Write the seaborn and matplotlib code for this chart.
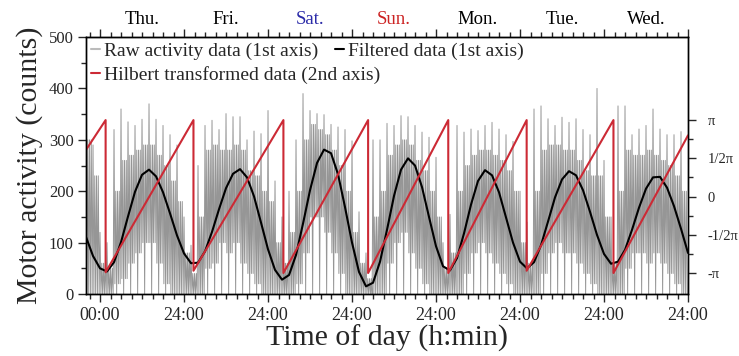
import matplotlib
matplotlib.use('Agg')
import matplotlib.pyplot as plt
from matplotlib.ticker import MultipleLocator
import numpy as np
import pandas as pd
import seaborn as sns

# time axis is in hours from Thursday 00:00
days = ['Thu.', 'Fri.', 'Sat.', 'Sun.', 'Mon.', 'Tue.', 'Wed.']
day_colors = ['black', 'black', '#2a2aa8', '#cc2222', 'black', 'black', 'black']
time_ticks = [0, 24, 48, 72, 96, 120, 144, 168]
time_labels = ['00:00', '24:00', '24:00', '24:00', '24:00', '24:00', '24:00', '24:00']
phase_ticks = [-1, -0.5, 0, 0.5, 1]
phase_labels = ['-\u03c0', '-1/2\u03c0', '0', '1/2\u03c0', '\u03c0']

# raw activity, one value per 2 h bin starting at -4 h
raw_peak = [344, 290, 120, 100, 320, 360, 335, 328, 340, 370, 340, 328, 310, 290,
            150, 95, 250, 328, 338, 320, 351, 345, 345, 300, 317, 312, 357, 220,
            150, 200, 300, 390, 357, 351, 349, 330, 325, 320, 298, 160, 80, 300,
            300, 332, 328, 347, 345, 328, 315, 305, 266, 100, 155, 328, 315, 321,
            318, 328, 334, 321, 310, 297, 200, 140, 360, 366, 341, 328, 344, 334,
            341, 320, 310, 400, 260, 150, 366, 366, 310, 321, 328, 360, 321, 310,
            310, 316]
raw_top = [300, 230, 60, 50, 200, 260, 270, 280, 290, 290, 270, 250, 220, 180,
           80, 40, 150, 280, 290, 280, 280, 290, 280, 240, 230, 200, 180, 100,
           60, 120, 200, 300, 330, 320, 310, 280, 250, 200, 120, 60, 30, 150,
           200, 270, 290, 300, 290, 260, 240, 200, 150, 50, 80, 200, 250, 270,
           280, 280, 270, 260, 240, 200, 100, 60, 200, 280, 290, 290, 280, 280,
           260, 240, 230, 230, 150, 60, 200, 280, 270, 270, 280, 270, 260, 250,
           230, 200]
raw_low = [0, 0, 0, 0, 20, 30, 60, 80, 100, 100, 60, 20, 0, 0,
           0, 0, 0, 50, 60, 100, 80, 100, 60, 40, 20, 0, 0, 0,
           0, 0, 20, 80, 150, 150, 120, 80, 40, 0, 0, 0, 0, 0,
           0, 60, 100, 120, 80, 50, 20, 0, 0, 0, 0, 0, 40, 80,
           100, 80, 60, 40, 20, 0, 0, 0, 0, 40, 80, 100, 80, 80,
           60, 40, 20, 0, 0, 0, 0, 50, 80, 80, 60, 80, 60, 40,
           20, 0]

# filtered data, every 2 h from -4 h to 168 h
filtered = [111, 74, 50, 44, 62, 101, 151, 199, 232, 242, 229, 198, 157, 114,
            79, 60, 61, 83, 121, 165, 206, 234, 243, 227, 190, 139, 87, 47,
            28, 37, 76, 137, 202, 255, 281, 274, 233, 169, 100, 43, 15, 22,
            63, 125, 191, 242, 264, 250, 208, 150, 93, 54, 46, 70, 118, 174,
            220, 241, 231, 198, 149, 100, 63, 50, 62, 95, 141, 188, 223, 239,
            231, 202, 160, 115, 78, 59, 63, 86, 125, 168, 205, 227, 228, 207,
            171, 127, 80]

# Hilbert phase (units of pi) at the ends of each sawtooth ramp
hilbert_t = [-4, 1.6, 1.6, 26.7, 26.7, 52.4, 52.4, 76.6, 76.6, 99.5, 99.5,
             121.9, 121.9, 146.7, 146.7, 168]
hilbert_phase = [0.61, 1.0, -0.99, 1.0, -0.97, 1.0, -1.0, 1.0, -1.0, 1.0, -1.0,
                 1.0, -0.97, 1.0, -1.0, 0.80]

# each 2 h bin is drawn as a dense run of samples between its read levels
raw_t, raw_v = [], []
for k in range(len(raw_peak)):
    s = -4 + 2 * k
    levels = [raw_peak[k], raw_low[k], raw_top[k], 0, raw_top[k], raw_low[k], raw_top[k], raw_low[k]]
    raw_t += [s + 0.25 * j for j in range(8)]
    raw_v += levels
df_raw = pd.DataFrame({'time': raw_t, 'count': raw_v})
df_filt = pd.DataFrame({'time': np.arange(-4, -4 + 2 * len(filtered), 2), 'count': filtered})
df_hil = pd.DataFrame({'time': hilbert_t, 'phase': hilbert_phase})

sns.set_style('ticks')
plt.rcParams['font.family'] = ['Liberation Serif', 'DejaVu Serif']

fig, ax = plt.subplots(figsize=(7.39, 3.56), dpi=100)
fig.subplots_adjust(left=0.1164, right=0.931, bottom=0.174, top=0.896)

sns.lineplot(data=df_raw, x='time', y='count', estimator=None, sort=False,
             color='#969696', lw=0.7, ax=ax, label='Raw activity data (1st axis)', legend=False)
sns.lineplot(data=df_filt, x='time', y='count', estimator=None, sort=False,
             color='black', lw=1.5, ax=ax, label='Filtered data (1st axis)', legend=False)

ax2 = ax.twinx()
sns.lineplot(data=df_hil, x='time', y='phase', estimator=None, sort=False,
             color='#cc2a35', lw=1.5, ax=ax2, label='Hilbert transformed data (2nd axis)', legend=False)

ax.set_xlim(-4, 168)
ax.set_ylim(0, 500)
ax2.set_ylim(-1.275, 2.086)

ax.set_xticks(time_ticks)
ax.set_xticklabels(time_labels, fontsize=13)
ax.xaxis.set_minor_locator(MultipleLocator(3))
ax.yaxis.set_major_locator(MultipleLocator(100))
ax.yaxis.set_minor_locator(MultipleLocator(50))
for label in ax.get_yticklabels():
    label.set_fontsize(12)
ax.tick_params(which='major', direction='out', length=6, width=1, pad=3)
ax.tick_params(which='minor', direction='out', length=3.5, width=1)

ax2.set_yticks(phase_ticks)
ax2.set_yticklabels(phase_labels, fontsize=10.5)
ax2.set_yticks([-0.75, -0.25, 0.25, 0.75], minor=True)
ax2.tick_params(which='major', direction='out', length=6, width=1, pad=8)
ax2.tick_params(which='minor', direction='out', length=3.5, width=1)
ax2.set_ylabel('')

top = ax.secondary_xaxis('top')
top.set_xticks(time_ticks)
top.set_xticklabels([])
top.xaxis.set_minor_locator(MultipleLocator(3))
top.tick_params(which='major', direction='out', length=6, width=1)
top.tick_params(which='minor', direction='out', length=3.5, width=1)
for i, day in enumerate(days):
    ax.text(12 + 24 * i, 1.068, day, color=day_colors[i], fontsize=13.5,
            ha='center', va='center', transform=ax.get_xaxis_transform())

ax.set_xlabel('Time of day (h:min)', fontsize=21.5, labelpad=1)
ax.set_ylabel('Motor activity (counts)', fontsize=21.5, labelpad=4)

for a in (ax, ax2):
    for sp in a.spines.values():
        sp.set_visible(True)
        sp.set_linewidth(1)
        sp.set_color('black')

h_raw, h_filt = ax.get_lines()[0], ax.get_lines()[1]
h_hil = ax2.get_lines()[0]
leg1 = ax2.legend([h_raw, h_filt], ['Raw activity data (1st axis)', 'Filtered data (1st axis)'],
                  ncol=2, loc='upper left', bbox_to_anchor=(0.0, 1.0), frameon=False,
                  fontsize=14, handlelength=0.45, handletextpad=0.2, columnspacing=0.9,
                  borderpad=0.15, borderaxespad=0.1)
ax2.add_artist(leg1)
leg2 = ax2.legend([h_hil], ['Hilbert transformed data (2nd axis)'],
                  loc='upper left', bbox_to_anchor=(0.0, 0.905), frameon=False,
                  fontsize=14, handlelength=0.45, handletextpad=0.2,
                  borderpad=0.15, borderaxespad=0.1)
for leg in (leg1, leg2):
    for line in leg.get_lines():
        line.set_linewidth(1.5)
leg1.get_lines()[0].set_color('#bbbbbb')

plt.savefig('out.png', dpi=100)
